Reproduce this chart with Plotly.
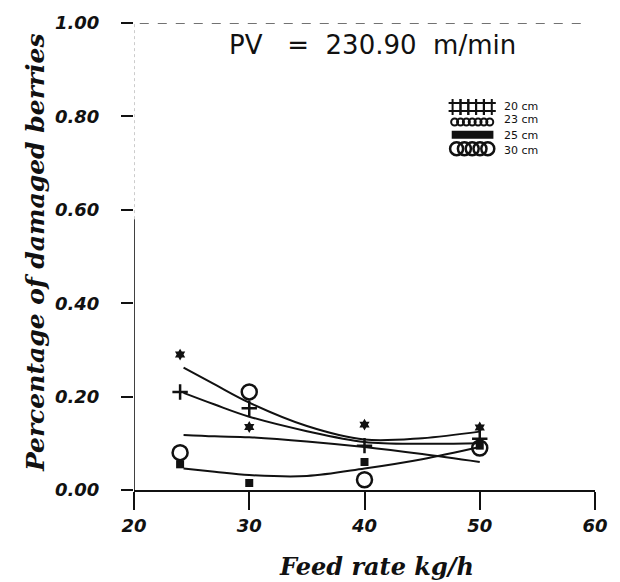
import numpy as np
import plotly.graph_objects as go

# Feed rates (kg/h) at which damage was measured
feed = [24, 30, 40, 50]

# Measured fraction of damaged berries for each drum spacing
d20 = [0.21, 0.175, 0.095, 0.11]
d23 = [0.29, 0.135, 0.14, 0.134]
d25 = [0.055, 0.015, 0.06, 0.095]
d30 = [0.08, 0.21, 0.022, 0.09]

# Fitted response curves, sampled along the feed-rate axis
fit_x = [24.3, 27, 30, 35, 40, 45, 50]
fit20 = [0.208, 0.183, 0.157, 0.126, 0.103, 0.099, 0.100]
fit23 = [0.262, 0.226, 0.187, 0.137, 0.108, 0.111, 0.125]
fit25 = [0.046, 0.039, 0.032, 0.030, 0.046, 0.066, 0.092]
fit30 = [0.118, 0.115, 0.113, 0.104, 0.092, 0.077, 0.060]

x_ticks = [20, 30, 40, 50, 60]
y_ticks = [0.0, 0.2, 0.4, 0.6, 0.8, 1.0]
y_tick_text = ["0.00", "0.20", "0.40", "0.60", "0.80", "1.00"]
spacings = ["20 cm", "23 cm", "25 cm", "30 cm"]

INK = "#111111"
TICKFONT = dict(family="DejaVu Sans", size=18, color=INK, weight="bold", style="italic")
TITLEFONT = dict(family="DejaVu Serif", size=24, color=INK, weight="bold", style="italic")

# plot area in pixels (for placing paper-referenced text)
L, R, T, B = 134, 607, 18, 490


def px(xp):
    return (xp - L) / (R - L)


def py(yp):
    return (B - yp) / (B - T)


fig = go.Figure()

# fitted curves
for ys in (fit23, fit20, fit30, fit25):
    fig.add_trace(go.Scatter(x=fit_x, y=ys, mode="lines",
                             line=dict(color=INK, width=2, shape="spline", smoothing=1.0),
                             showlegend=False, hoverinfo="skip"))

# measured points
fig.add_trace(go.Scatter(x=feed, y=d25, mode="markers", showlegend=False,
                         marker=dict(symbol="square", size=8, color=INK)))
fig.add_trace(go.Scatter(x=feed, y=d30, mode="markers", showlegend=False,
                         marker=dict(symbol="circle-open", size=15, color=INK,
                                     line=dict(width=2.5, color=INK))))
fig.add_trace(go.Scatter(x=feed, y=d20, mode="markers", showlegend=False,
                         marker=dict(symbol="cross-thin-open", size=11, color=INK,
                                     line=dict(width=2.5, color=INK))))
fig.add_trace(go.Scatter(x=feed, y=d23, mode="markers", showlegend=False,
                         marker=dict(symbol="hexagram", size=9, color=INK)))

# hand-drawn style key in a small inset (pixel-like units, y downwards)
key_x = np.arange(7, 45, 8)
fig.add_trace(go.Scatter(x=key_x, y=[10] * len(key_x), mode="markers", xaxis="x2", yaxis="y2",
                         showlegend=False, hoverinfo="skip", cliponaxis=False,
                         marker=dict(symbol="hash-open", size=16, color=INK,
                                     line=dict(width=2, color=INK))))
key_x2 = np.arange(5, 45, 6)
fig.add_trace(go.Scatter(x=key_x2, y=[25] * len(key_x2), mode="markers", xaxis="x2", yaxis="y2",
                         showlegend=False, hoverinfo="skip", cliponaxis=False,
                         marker=dict(symbol="circle-open", size=7, color=INK,
                                     line=dict(width=2, color=INK))))
fig.add_trace(go.Scatter(x=[2, 45], y=[38, 38], mode="lines", xaxis="x2", yaxis="y2",
                         showlegend=False, hoverinfo="skip", cliponaxis=False,
                         line=dict(color=INK, width=8)))
key_x3 = np.arange(7, 45, 8)
fig.add_trace(go.Scatter(x=key_x3, y=[52] * len(key_x3), mode="markers", xaxis="x2", yaxis="y2",
                         showlegend=False, hoverinfo="skip", cliponaxis=False,
                         marker=dict(symbol="circle-open", size=13, color=INK,
                                     line=dict(width=2.5, color=INK))))

annotations = []
for lab, yy in zip(spacings, [102, 116, 132, 147]):
    annotations.append(dict(text=lab, x=px(512), y=py(yy), xref="paper", yref="paper",
                            showarrow=False, xanchor="left", yanchor="middle",
                            font=dict(family="DejaVu Sans", size=11, color=INK)))

annotations += [
    dict(text="PV   =  230.90  m/min", x=px(379), y=py(40), xref="paper", yref="paper",
         showarrow=False, xanchor="center", yanchor="middle",
         font=dict(family="DejaVu Sans", size=26, color=INK)),
    dict(text="Percentage of damaged berries", x=px(33), y=py(250), xref="paper", yref="paper",
         showarrow=False, textangle=-90, xanchor="center", yanchor="middle",
         font=dict(TITLEFONT, size=25)),
    dict(text="Feed rate kg/h", x=px(383), y=py(567), xref="paper", yref="paper",
         showarrow=False, xanchor="center", yanchor="middle", font=TITLEFONT),
]

shapes = [
    # left axis: solid lower part, faint upper part
    dict(type="line", xref="x", yref="y", x0=20, x1=20, y0=-0.03, y1=0.58,
         line=dict(color=INK, width=1.6)),
    dict(type="line", xref="x", yref="y", x0=20, x1=20, y0=0.58, y1=1.0,
         line=dict(color="#9a9a9a", width=1, dash="dot")),
    # faint frame line along the top
    dict(type="line", xref="x", yref="y", x0=20.5, x1=59.5, y0=1.0, y1=1.0,
         line=dict(color="#444444", width=1.5, dash="dash")),
]

fig.update_layout(
    width=620, height=582,
    margin=dict(l=L, r=620 - R, t=T, b=582 - B),
    paper_bgcolor="white", plot_bgcolor="white",
    showlegend=False,
    xaxis=dict(range=[20, 60], tickvals=x_ticks, ticktext=[str(v) for v in x_ticks],
               showgrid=False, zeroline=False, showline=True, linecolor=INK, linewidth=2,
               ticks="outside", ticklen=18, tickwidth=1.6, tickcolor=INK,
               tickfont=TICKFONT),
    yaxis=dict(range=[0, 1.0], tickvals=y_ticks, ticktext=y_tick_text,
               showgrid=False, zeroline=False, showline=False,
               ticks="outside", ticklen=12, tickwidth=1.6, tickcolor=INK,
               ticklabelstandoff=18, tickfont=TICKFONT),
    xaxis2=dict(domain=[px(458), px(503)], range=[0, 45],
                anchor="y2", visible=False, fixedrange=True),
    yaxis2=dict(domain=[py(158), py(93)], range=[65, 0],
                anchor="x2", visible=False, fixedrange=True),
    annotations=annotations,
    shapes=shapes,
)

fig.write_html("out.html")
